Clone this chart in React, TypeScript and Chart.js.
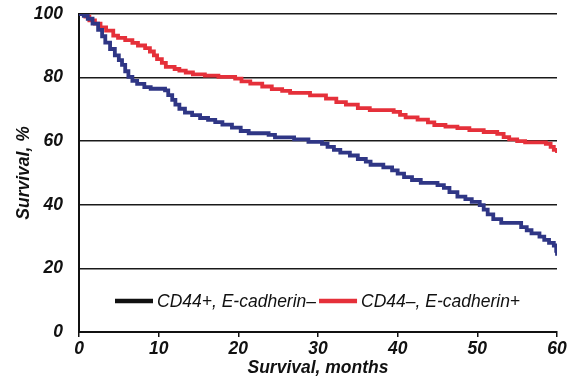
import React, { useEffect, useRef } from "react";
import { Chart, registerables } from "chart.js";

Chart.register(...registerables);

// CD44+, E-cadherin– (blue)
const blueMonths = [0, 0.6, 1.1, 1.7, 2.4, 2.9, 3.3, 3.9, 4.5, 5.0, 5.4, 5.8, 6.2, 6.7, 7.3, 8.2, 9.0, 10.8, 11.2, 11.7, 12.1, 12.6, 13.3, 14.2, 15.2, 16.2, 17.1, 18.0, 19.2, 20.3, 21.3, 23.8, 24.6, 27.0, 28.8, 30.5, 31.2, 32.0, 32.8, 34.0, 35.0, 36.0, 36.6, 38.2, 39.3, 40.0, 40.8, 41.8, 42.9, 45.0, 45.8, 46.5, 47.5, 48.5, 49.3, 50.3, 50.8, 51.3, 52.0, 53.0, 55.5, 56.2, 56.8, 57.8, 58.4, 59.0, 59.6, 59.9, 60];
const blueSurvival = [100, 99.4, 98.5, 97, 95, 93, 91, 89, 87, 85.5, 84, 82, 80.2, 79, 78, 77, 76.5, 76, 74.5, 73, 71.5, 70.2, 69, 68.2, 67.3, 66.7, 66, 65.2, 64.3, 63.2, 62.5, 62, 61.2, 60.6, 59.8, 59.2, 58.2, 57.3, 56.4, 55.5, 54.4, 53.6, 52.6, 51.8, 50.8, 49.8, 48.7, 47.8, 46.9, 46.2, 45.3, 44, 42.6, 41.8, 40.9, 39.9, 38.5, 37, 35.5, 34.3, 33, 32, 31, 30, 29, 28, 27.2, 25.5, 24];

// CD44–, E-cadherin+ (red)
const redMonths = [0, 0.8, 1.3, 2.0, 2.7, 3.4, 4.3, 4.9, 5.8, 6.7, 7.4, 8.3, 8.9, 9.4, 9.8, 10.4, 10.9, 12.0, 12.6, 13.4, 14.3, 15.8, 17.5, 19.6, 20.4, 21.5, 23.0, 24.2, 25.5, 26.5, 29.0, 31.0, 32.3, 33.5, 35.0, 36.5, 39.5, 40.3, 41.0, 42.5, 43.8, 44.6, 46.0, 47.5, 49.0, 50.8, 52.5, 53.3, 54.0, 55.0, 56.0, 58.6, 59.2, 59.6, 60];
const redSurvival = [100, 99.2, 98, 97, 95.8, 94.8, 93.2, 92.5, 91.8, 90.9, 90.1, 89.3, 88.2, 87, 85.8, 84.6, 83.4, 82.7, 82.2, 81.6, 81, 80.6, 80.2, 79.7, 78.8, 78.1, 77.2, 76.4, 75.8, 75.2, 74.4, 73.4, 72.3, 71.5, 70.4, 69.8, 69.2, 68.3, 67.5, 66.8, 65.9, 65.1, 64.6, 64.1, 63.5, 62.9, 62.3, 61.3, 60.6, 60, 59.6, 59.2, 58.2, 57.3, 56.3];

const seriesLabels = ["CD44+, E-cadherin–", "CD44–, E-cadherin+"];
const xTitle = "Survival, months";
const yTitle = "Survival, %";

const BLUE = "#2f3685";
const RED = "#e5303a";
const FONT = "'Liberation Sans', Arial, Helvetica, sans-serif";

const toPoints = (xs: number[], ys: number[]) => xs.map((x, i) => ({ x, y: ys[i] }));

const legendPlugin = {
  id: "insideLegend",
  afterDraw(chart: any) {
    const { ctx, chartArea } = chart;
    const y = chartArea.bottom - 31;
    let x = chartArea.left + 36;
    const colors = ["#111111", RED];
    ctx.save();
    ctx.font = `italic 17.5px ${FONT}`;
    ctx.textBaseline = "middle";
    ctx.textAlign = "left";
    seriesLabels.forEach((label, i) => {
      ctx.strokeStyle = colors[i];
      ctx.lineWidth = 4.5;
      ctx.beginPath();
      ctx.moveTo(x, y);
      ctx.lineTo(x + 38, y);
      ctx.stroke();
      x += 42;
      ctx.fillStyle = "#111111";
      ctx.fillText(label, x, y + 1);
      x += ctx.measureText(label).width + 3;
    });
    ctx.restore();
  },
};

export default function App() {
  const canvasRef = useRef<HTMLCanvasElement | null>(null);

  useEffect(() => {
    if (!canvasRef.current) return;
    const chart = new Chart(canvasRef.current, {
      type: "line",
      data: {
        datasets: [
          {
            label: seriesLabels[0],
            data: toPoints(blueMonths, blueSurvival),
            borderColor: BLUE,
            borderWidth: 3.8,
            pointRadius: 0,
            stepped: "before",
            fill: false,
          },
          {
            label: seriesLabels[1],
            data: toPoints(redMonths, redSurvival),
            borderColor: RED,
            borderWidth: 3.8,
            pointRadius: 0,
            stepped: "before",
            fill: false,
          },
        ],
      },
      options: {
        animation: false,
        responsive: false,
        layout: { padding: { left: 0, right: 15, top: 14, bottom: 0 } },
        plugins: {
          legend: { display: false },
          tooltip: { enabled: false },
        },
        scales: {
          x: {
            type: "linear",
            min: 0,
            max: 60,
            afterFit: (scale: any) => {
              scale.height = 51;
              scale.paddingLeft = 0;
              scale.paddingRight = 0;
            },
            ticks: {
              stepSize: 10,
              color: "#111111",
              padding: 2,
              maxRotation: 0,
              font: { family: FONT, size: 17.5, style: "italic", weight: "bold" },
            },
            grid: {
              drawOnChartArea: false,
              drawTicks: true,
              tickLength: 5,
              color: "#111111",
              lineWidth: 1.5,
            },
            border: { display: true, color: "#111111", width: 2 },
            title: {
              display: true,
              text: xTitle,
              color: "#111111",
              padding: { top: 0, bottom: 4.5 },
              font: { family: FONT, size: 17.5, style: "italic", weight: "bold" },
            },
          },
          y: {
            type: "linear",
            min: 0,
            max: 100,
            afterFit: (scale: any) => {
              scale.width = 79;
              scale.paddingTop = 0;
              scale.paddingBottom = 0;
            },
            ticks: {
              stepSize: 20,
              color: "#111111",
              padding: 16,
              font: { family: FONT, size: 17.5, style: "italic", weight: "bold" },
            },
            grid: {
              drawTicks: false,
              color: "#1a1a1a",
              lineWidth: 1.5,
            },
            border: { display: true, color: "#111111", width: 2 },
            title: {
              display: true,
              text: yTitle,
              color: "#111111",
              padding: { top: 13.5, bottom: 0 },
              font: { family: FONT, size: 17.5, style: "italic", weight: "bold" },
            },
          },
        },
      },
      plugins: [legendPlugin],
    });
    return () => chart.destroy();
  }, []);

  return (
    <div style={{ position: "fixed", left: 0, top: 0, width: 572, height: 383, background: "#ffffff" }}>
      <canvas ref={canvasRef} width={572} height={383} />
    </div>
  );
}
